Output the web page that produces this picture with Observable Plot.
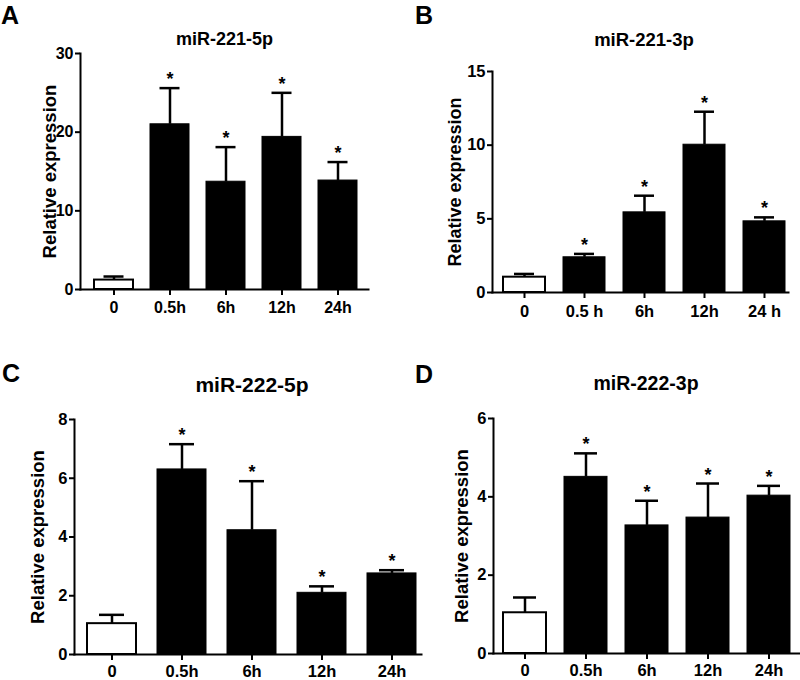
<!DOCTYPE html>
<html><head><meta charset="utf-8">
<script src="https://cdn.jsdelivr.net/npm/d3@7"></script>
<script src="https://cdn.jsdelivr.net/npm/@observablehq/plot@0.6"></script>
<style>
body{margin:0;background:#fff;}
#fig{position:relative;width:800px;height:680px;overflow:hidden;font-family:"Liberation Sans",Arial,sans-serif;font-weight:bold;color:#000;background:#fff;}
.panel{position:absolute;}
.letter{position:absolute;font-size:25px;font-weight:bold;line-height:1.2;}
.title{position:absolute;font-weight:bold;line-height:1;white-space:nowrap;transform:translateX(-50%);}
</style></head>
<body><div id="fig"></div>
<script>
// categories
const timesA = ["0", "0.5h", "6h", "12h", "24h"];
const timesB = ["0", "0.5 h", "6h", "12h", "24 h"];
const timesC = ["0", "0.5h", "6h", "12h", "24h"];
const timesD = ["0", "0.5h", "6h", "12h", "24h"];
// means and SD (upper error)
const meanA = [1.2, 21.0, 13.7, 19.4, 13.85];
const sdA   = [0.45, 4.6, 4.4, 5.6, 2.35];
const meanB = [1.04, 2.39, 5.44, 10.03, 4.83];
const sdB   = [0.22, 0.23, 1.13, 2.24, 0.27];
const meanC = [1.05, 6.3, 4.23, 2.1, 2.76];
const sdC   = [0.3, 0.86, 1.67, 0.22, 0.11];
const meanD = [1.04, 4.51, 3.27, 3.47, 4.03];
const sdD   = [0.39, 0.6, 0.63, 0.87, 0.25];
const significant = [false, true, true, true, true];
// tick labels
const ticksA = [0, 10, 20, 30];
const ticksB = [0, 5, 10, 15];
const ticksC = [0, 2, 4, 6, 8];
const ticksD = [0, 2, 4, 6];
const titles = ["miR-221-5p", "miR-221-3p", "miR-222-5p", "miR-222-3p"];
const letters = ["A", "B", "C", "D"];
const yLabel = "Relative expression";

const fig = document.getElementById("fig");
const FONT = '"Liberation Sans", Arial, sans-serif';

function panel(o) {
  const data = o.times.map((t, i) => ({t, m: o.means[i], top: o.means[i] + o.sds[i], sig: significant[i], ctrl: i === 0}));
  const plot = Plot.plot({
    width: o.width, height: o.height,
    marginLeft: o.ml, marginRight: o.mr, marginTop: o.mt, marginBottom: o.mb,
    style: {background: "transparent", fontFamily: FONT, fontWeight: "bold", fontSize: o.tickFont + "px", color: "black", overflow: "visible"},
    x: {domain: o.times, paddingInner: 0.3, paddingOuter: o.pOuter, align: o.align, label: null},
    y: {domain: [0, o.yMax], label: null},
    marks: [
      Plot.barY(data.filter(d => d.ctrl), {x: "t", y: "m", fill: "white", stroke: "black", strokeWidth: 2}),
      Plot.barY(data.filter(d => !d.ctrl), {x: "t", y: "m", fill: "black", stroke: "black", strokeWidth: 1}),
      Plot.ruleX(data, {x: "t", y1: "m", y2: "top", stroke: "black", strokeWidth: 2.5}),
      Plot.tickY(data, {x: "t", y: "top", stroke: "black", strokeWidth: 2.5, insetLeft: o.capInset, insetRight: o.capInset}),
      Plot.text(data.filter(d => d.sig), {x: "t", y: "top", text: () => "*", dy: -3, lineAnchor: "bottom", fontSize: 18, fontWeight: "bold"}),
      Plot.axisX({tickSize: 6, tickPadding: o.xPad, strokeWidth: 2, fontSize: o.tickFont, fontWeight: "bold", label: null}),
      Plot.axisY({ticks: o.yTicks, tickFormat: d => String(d), tickSize: 5, tickPadding: 2, strokeWidth: 2, fontSize: o.tickFont, fontWeight: "bold", label: null}),
      Plot.frame({anchor: "left", stroke: "black", strokeWidth: 2}),
      Plot.frame({anchor: "bottom", stroke: "black", strokeWidth: 2}),
      Plot.text([yLabel], {frameAnchor: "left", textAnchor: "middle", lineAnchor: "middle", rotate: -90, dx: o.labelDx, fontSize: o.labelFont, fontWeight: "bold", text: d => d})
    ]
  });
  const div = document.createElement("div");
  div.className = "panel";
  div.style.left = o.left + "px";
  div.style.top = o.top + "px";
  div.style.width = o.width + "px";
  div.appendChild(plot);
  fig.appendChild(div);

  const tt = document.createElement("div");
  tt.className = "title";
  tt.textContent = o.title;
  tt.style.fontSize = o.titleFont + "px";
  tt.style.left = o.titleX + "px";
  tt.style.top = (o.titleCapTop - 0.13 * o.titleFont) + "px";
  fig.appendChild(tt);

  const lt = document.createElement("div");
  lt.className = "letter";
  lt.textContent = o.letter;
  lt.style.left = o.letterX + "px";
  lt.style.top = o.letterY + "px";
  fig.appendChild(lt);
}

panel({times: timesA, means: meanA, sds: sdA, yMax: 30, yTicks: ticksA,
  left: 0, top: 0, width: 400, height: 330, ml: 80, mr: 32, mt: 53, mb: 41,
  pOuter: 0.177, align: 0.55, capInset: 9.5, labelDx: -30, labelFont: 18.5, tickFont: 16, xPad: 6,
  title: titles[0], titleFont: 18, titleX: 224.5, titleCapTop: 32, letter: letters[0], letterX: 1, letterY: 0});
panel({times: timesB, means: meanB, sds: sdB, yMax: 15, yTicks: ticksB,
  left: 400, top: 0, width: 400, height: 330, ml: 92, mr: 12, mt: 71, mb: 38,
  pOuter: 0.1, align: 0.8, capInset: 11, labelDx: -37, labelFont: 18, tickFont: 16.5, xPad: 7,
  title: titles[1], titleFont: 18.5, titleX: 644, titleCapTop: 33, letter: letters[1], letterX: 415, letterY: 0});
panel({times: timesC, means: meanC, sds: sdC, yMax: 8, yTicks: ticksC,
  left: 0, top: 330, width: 430, height: 350, ml: 74, mr: 9, mt: 89, mb: 26,
  pOuter: 0.116, align: 0.73, capInset: 12, labelDx: -36.5, labelFont: 18.5, tickFont: 16.5, xPad: 5,
  title: titles[2], titleFont: 21, titleX: 252, titleCapTop: 377, letter: letters[2], letterX: 2, letterY: 358});
panel({times: timesD, means: meanD, sds: sdD, yMax: 6, yTicks: ticksD,
  left: 400, top: 330, width: 400, height: 350, ml: 93, mr: 0, mt: 88, mb: 27,
  pOuter: 0.166, align: 0.5, capInset: 10, labelDx: -31, labelFont: 18.5, tickFont: 16.5, xPad: 5,
  title: titles[3], titleFont: 19.5, titleX: 646, titleCapTop: 377, letter: letters[3], letterX: 415, letterY: 359});
</script>
</body></html>
